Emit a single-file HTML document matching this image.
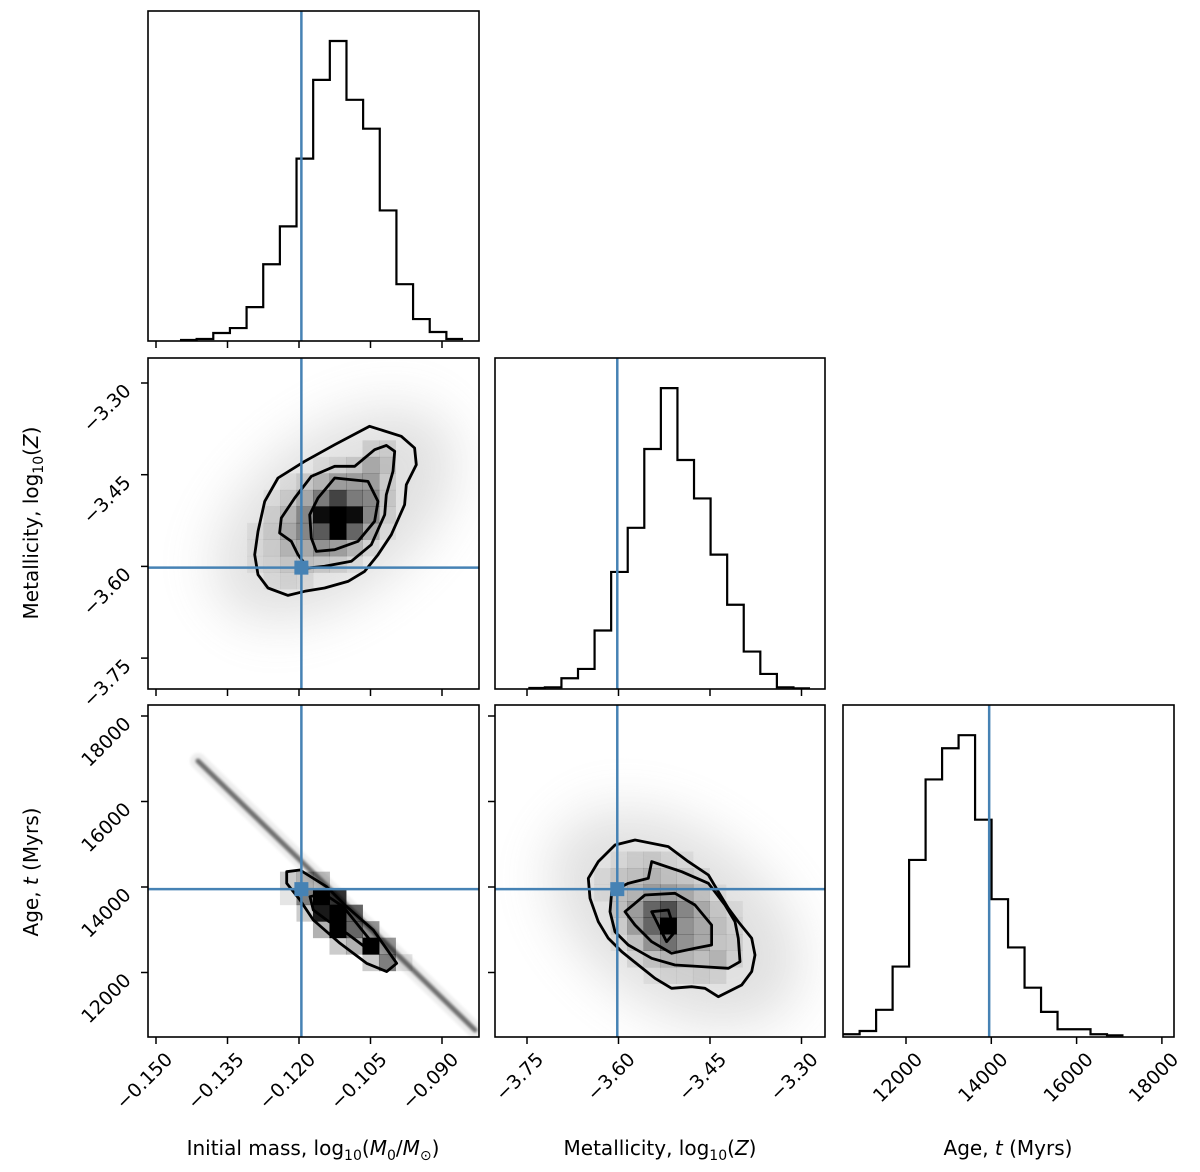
<!DOCTYPE html>
<html><head><meta charset="utf-8"><style>
html,body{margin:0;padding:0;background:#fff;}
svg{display:block;font-family:"DejaVu Sans","Liberation Sans",sans-serif;}
</style></head><body>
<svg id="chart" width="1200" height="1172" viewBox="0 0 1200 1172" xmlns="http://www.w3.org/2000/svg">
<defs>
<filter id="blurBig" x="-50%" y="-50%" width="200%" height="200%"><feGaussianBlur stdDeviation="26"/></filter>
<filter id="blurSm" x="-20%" y="-20%" width="140%" height="140%"><feGaussianBlur stdDeviation="1.4"/></filter>
<clipPath id="c21"><rect x="148" y="358" width="331" height="331"/></clipPath>
<clipPath id="c31"><rect x="148" y="705" width="331" height="332"/></clipPath>
<clipPath id="c32"><rect x="495" y="705" width="330" height="332"/></clipPath>
</defs>
<g id="layer"></g>
</svg>
<script>
// ---------- data ----------
const massTicks = [-0.150, -0.135, -0.120, -0.105, -0.090];
const massTickLabels = ["\u22120.150", "\u22120.135", "\u22120.120", "\u22120.105", "\u22120.090"];
const zTicks = [-3.75, -3.60, -3.45, -3.30];
const zTickLabels = ["\u22123.75", "\u22123.60", "\u22123.45", "\u22123.30"];
const ageTicks = [12000, 14000, 16000, 18000];
const ageTickLabels = ["12000", "14000", "16000", "18000"];
const truthMass = -0.1195;
const truthZ = -3.602;
const truthAge = 13950;

const massHistStart = -0.14497, massHistWidth = 0.003493;
const massHistCounts = [1, 2, 8, 13, 34, 77, 115, 183, 262, 301, 242, 213, 131, 57, 22, 9, 2];
const zHistStart = -3.7479, zHistWidth = 0.02717;
const zHistCounts = [1, 1.7, 10.7, 20, 58.3, 116.7, 160.7, 239.3, 300, 228.3, 190, 134, 84, 37.3, 15, 1.7, 0.7];
const ageHistStart = 10526, ageHistWidth = 386.7;
const ageHistCounts = [2.7, 6, 27, 70, 176, 256, 287, 300, 216, 137, 89, 49, 25, 7.7, 7.7, 2.7, 1.7];

// mass vs Z
const mzContourOuter = [[-0.10518,-3.3709],[-0.09853,-3.3872],[-0.09574,-3.4063],[-0.09539,-3.4336],[-0.09749,-3.4663],[-0.09784,-3.4990],[-0.10063,-3.5481],[-0.10343,-3.5808],[-0.10623,-3.6081],[-0.10972,-3.6245],[-0.11462,-3.6354],[-0.11881,-3.6408],[-0.12231,-3.6474],[-0.12651,-3.6354],[-0.12860,-3.6135],[-0.12930,-3.5808],[-0.12860,-3.5427],[-0.12720,-3.4936],[-0.12441,-3.4554],[-0.11881,-3.4281],[-0.11252,-3.4009]];
const mzContourMid = [[-0.10168,-3.4020],[-0.09993,-3.4118],[-0.10028,-3.4445],[-0.10168,-3.4827],[-0.10203,-3.5154],[-0.10483,-3.5645],[-0.10902,-3.5917],[-0.11462,-3.5999],[-0.11811,-3.6026],[-0.12021,-3.5808],[-0.12161,-3.5590],[-0.12406,-3.5454],[-0.12371,-3.5208],[-0.12091,-3.4881],[-0.11741,-3.4527],[-0.11252,-3.4363],[-0.10832,-3.4363],[-0.10413,-3.4091]];
const mzContourInner = [[-0.11252,-3.4554],[-0.10553,-3.4609],[-0.10343,-3.4936],[-0.10413,-3.5263],[-0.10762,-3.5590],[-0.11252,-3.5727],[-0.11637,-3.5754],[-0.11741,-3.5536],[-0.11776,-3.5154],[-0.11602,-3.4881]];
const mzGridMass0 = -0.13436, mzGridZ0 = -3.3938, mzCellMass = 0.00346, mzCellZ = 0.027;
const mzDensity = [
 [0,0,0,0,0,0,0,0,0.1,0.1],
 [0,0,0,0,0,0.05,0.08,0.12,0.25,0.15],
 [0,0,0,0.05,0.12,0.2,0.3,0.3,0.3,0.1],
 [0,0,0.05,0.12,0.25,0.45,0.7,0.45,0.4,0.12],
 [0,0,0.1,0.2,0.4,0.95,1,0.95,0.4,0.1],
 [0,0.05,0.12,0.25,0.4,0.6,1,0.55,0.25,0.05],
 [0,0.05,0.1,0.2,0.25,0.35,0.3,0.2,0.08,0],
 [0,0.05,0.08,0.12,0.15,0.12,0.1,0.05,0,0],
 [0,0,0.05,0.08,0.06,0,0,0,0,0],
 [0,0,0,0,0,0,0,0,0,0]];
const mzCloud = [-0.1125, -3.515];

// mass vs age
const maRidge = [[-0.14119,16947],[-0.08308,10655]];
const maContourOuter = [[-0.12259,14359],[-0.11979,14398],[-0.11420,14008],[-0.11000,13540],[-0.10441,12994],[-0.09951,12215],[-0.10161,12020],[-0.10581,12215],[-0.11140,12682],[-0.11700,13228],[-0.11979,13696],[-0.12259,14086]];
const maContourInner = [[-0.11770,13774],[-0.11490,13852],[-0.11070,13540],[-0.10791,13150],[-0.10511,12760],[-0.10371,12526],[-0.10581,12565],[-0.11000,12916],[-0.11420,13228],[-0.11700,13462]];
const maGridMass0 = -0.12399, maGridAge0 = 14359, maCellMass = 0.00346, maCellAge = 386;
const maDensity = [
 [0.2,0.3,0.25,0,0,0,0,0],
 [0.1,0.5,1,0.8,0,0,0,0],
 [0,0.2,0.9,1,0.6,0,0,0],
 [0,0,0.3,1,0.6,0.4,0,0],
 [0,0,0,0.2,0.3,1,0.4,0],
 [0,0,0,0,0,0.2,0.5,0.1]];

// Z vs age
const zaContourOuter = [[-3.5730,15099],[-3.5184,14944],[-3.4855,14593],[-3.4527,14281],[-3.4364,13891],[-3.4199,13501],[-3.4036,13189],[-3.3817,12799],[-3.3762,12410],[-3.3817,12020],[-3.3981,11708],[-3.4364,11435],[-3.4582,11630],[-3.4801,11669],[-3.5129,11630],[-3.5402,11864],[-3.5675,12176],[-3.5948,12488],[-3.6167,12799],[-3.6331,13189],[-3.6468,13735],[-3.6495,14203],[-3.6331,14593],[-3.6058,14983]];
const zaContourMid = [[-3.5456,14593],[-3.5292,14515],[-3.4964,14359],[-3.4527,14086],[-3.4254,13579],[-3.4090,13189],[-3.4036,12799],[-3.4008,12253],[-3.4199,12098],[-3.4637,12137],[-3.5074,12176],[-3.5456,12332],[-3.5839,12644],[-3.6058,12955],[-3.6139,13423],[-3.6112,13891],[-3.5839,14086],[-3.5511,14203]];
const zaContourInner = [[-3.5894,13423],[-3.5566,13813],[-3.5074,13852],[-3.4746,13579],[-3.4473,13111],[-3.4473,12643],[-3.4746,12565],[-3.5129,12448],[-3.5456,12721],[-3.5730,13111]];
const zaContourCore = [[-3.5456,13423],[-3.5183,13462],[-3.5074,12955],[-3.5211,12721],[-3.5347,13111]];
const zaGridZ0 = -3.667, zaGridAge0 = 14830, zaCellZ = 0.027, zaCellAge = 386;
const zaDensity = [
 [0,0,0.05,0.1,0.12,0.08,0.05,0,0,0],
 [0,0.05,0.12,0.15,0.2,0.15,0.12,0.08,0,0],
 [0,0.05,0.15,0.2,0.3,0.3,0.25,0.15,0.05,0],
 [0,0,0.15,0.3,0.55,0.65,0.4,0.25,0.12,0.05],
 [0,0,0.1,0.3,0.55,1,0.35,0.25,0.15,0.08],
 [0,0,0.05,0.15,0.35,0.5,0.35,0.25,0.12,0.1],
 [0,0,0,0.08,0.15,0.2,0.2,0.15,0.2,0.08],
 [0,0,0,0,0.05,0.08,0.08,0.1,0.08,0],
 [0,0,0,0,0,0,0,0,0,0]];
const zaCloud = [-3.507, 13267];

// ---------- axes ----------
const xMass = m => 156 + (m + 0.150) / 0.015 * 71.5;
const xZ = z => 527 + (z + 3.75) / 0.15 * 91.5;
const yZ = z => 383 + (-3.30 - z) / 0.15 * 91.7;
const xAge = a => 906 + (a - 12000) / 2000 * 85.3;
const yAge = a => 716 + (18000 - a) / 2000 * 85.5;

const NS = "http://www.w3.org/2000/svg";
const layer = document.getElementById('layer');
function mk(tag, attrs, parent) {
  const e = document.createElementNS(NS, tag);
  for (const k in attrs) e.setAttribute(k, attrs[k]);
  (parent || layer).appendChild(e);
  return e;
}
const BLUE = "#4682b4";
const P = {
  p11: [148, 11, 479, 341], p21: [148, 358, 479, 689], p22: [495, 358, 825, 689],
  p31: [148, 705, 479, 1037], p32: [495, 705, 825, 1037], p33: [843, 705, 1174, 1037]
};

function hist(name, rect, start, width, counts, xf, truth) {
  const g = mk('g', {});
  
  
  const bot = rect[3], h = rect[3] - rect[1];
  const mx = Math.max(...counts) * 1.1;
  let d = "";
  counts.forEach((c, i) => {
    const x0 = xf(start + i * width), x1 = xf(start + (i + 1) * width);
    const y = bot - c / mx * h;
    d += (i === 0 ? "M" + x0 + "," + y : "L" + x0 + "," + y) + "L" + x1 + "," + y;
  });
  const p = mk('path', { d: d, fill: 'none', stroke: '#000', 'stroke-width': 2.2 }, g);
  
  
  const t = mk('line', { x1: xf(truth), x2: xf(truth), y1: rect[1], y2: rect[3], stroke: BLUE, 'stroke-width': 2.5 }, g);
  
  
}

function heat(name, clip, grid, x0, y0, dx, dy, xf, yf) {
  const g = mk('g', { 'clip-path': 'url(#' + clip + ')' });
  
  
  grid.forEach((row, r) => row.forEach((v, c) => {
    if (v <= 0) return;
    const xa = xf(x0 + c * dx), xb = xf(x0 + (c + 1) * dx);
    const ya = yf(y0 - r * dy), yb = yf(y0 - (r + 1) * dy);
    const cell = mk('rect', { x: Math.min(xa, xb), y: Math.min(ya, yb), width: Math.abs(xb - xa) + 0.5, height: Math.abs(yb - ya) + 0.5, fill: '#000', 'fill-opacity': v }, g);
    
    
  }));
}

function contour(name, pts, xf, yf) {
  const d = pts.map((p, i) => (i ? 'L' : 'M') + xf(p[0]).toFixed(1) + ',' + yf(p[1]).toFixed(1)).join('') + 'Z';
  const e = mk('path', { d: d, fill: 'none', stroke: '#000', 'stroke-width': 2.8, 'stroke-linejoin': 'round' });
  
  
}

function cloud(name, clip, c, xf, yf, rx, ry, rot) {
  const cx = xf(c[0]), cy = yf(c[1]);
  const g = mk('g', { 'clip-path': 'url(#' + clip + ')' });
  
  
  mk('ellipse', { cx: cx, cy: cy, rx: rx, ry: ry, fill: '#9a9a9a', opacity: 0.3, filter: 'url(#blurBig)', transform: 'rotate(' + rot + ' ' + cx + ' ' + cy + ')' }, g);
}

function truth2d(name, rect, tx, ty) {
  const g = mk('g', {});
  
  
  mk('line', { x1: tx, x2: tx, y1: rect[1], y2: rect[3], stroke: BLUE, 'stroke-width': 2.5 }, g);
  mk('line', { x1: rect[0], x2: rect[2], y1: ty, y2: ty, stroke: BLUE, 'stroke-width': 2.5 }, g);
  mk('rect', { x: tx - 7, y: ty - 7, width: 14, height: 14, fill: BLUE }, g);
}

function frame(name, rect) {
  const f = mk('rect', { x: rect[0], y: rect[1], width: rect[2] - rect[0], height: rect[3] - rect[1], fill: 'none', stroke: '#000', 'stroke-width': 1.6 });
  
  
}

function xTicks(name, rect, ticks, xf, labels) {
  const g = mk('g', {});
  
  
  ticks.forEach((t, i) => {
    const x = xf(t);
    mk('line', { x1: x, x2: x, y1: rect[3], y2: rect[3] + 7, stroke: '#000', 'stroke-width': 1.5 }, g);
    if (labels) {
      const tx = x + 8, ty = rect[3] + 14;
      const e = mk('text', { x: tx, y: ty, 'text-anchor': 'end', 'font-size': 19, fill: '#000', transform: 'rotate(-45 ' + tx + ' ' + ty + ')', 'dominant-baseline': 'hanging' }, g);
      e.textContent = labels[i];
      
      
    }
  });
}

function yTicks(name, rect, ticks, yf, labels) {
  const g = mk('g', {});
  
  
  ticks.forEach((t, i) => {
    const y = yf(t);
    mk('line', { x1: rect[0] - 7, x2: rect[0], y1: y, y2: y, stroke: '#000', 'stroke-width': 1.5 }, g);
    if (labels) {
      const tx = rect[0] - 16, ty = y + 9;
      const e = mk('text', { x: tx, y: ty, 'text-anchor': 'end', 'font-size': 19, fill: '#000', transform: 'rotate(-45 ' + tx + ' ' + ty + ')' }, g);
      e.textContent = labels[i];
      
      
    }
  });
}

// ---------- draw ----------
hist('mass-histogram', P.p11, massHistStart, massHistWidth, massHistCounts, xMass, truthMass);
hist('metallicity-histogram', P.p22, zHistStart, zHistWidth, zHistCounts, xZ, truthZ);
hist('age-histogram', P.p33, ageHistStart, ageHistWidth, ageHistCounts, xAge, truthAge);

// mass-Z
cloud('mass-metallicity-cloud', 'c21', mzCloud, xMass, yZ, 140, 80, -38);
heat('mass-metallicity-density', 'c21', mzDensity, mzGridMass0, mzGridZ0, mzCellMass, mzCellZ, xMass, yZ);
contour('mass-metallicity-contour-outer', mzContourOuter, xMass, yZ);
contour('mass-metallicity-contour-mid', mzContourMid, xMass, yZ);
contour('mass-metallicity-contour-inner', mzContourInner, xMass, yZ);
truth2d('mass-metallicity-truth', P.p21, xMass(truthMass), yZ(truthZ));

// mass-age
(function () {
  const g = mk('g', { 'clip-path': 'url(#c31)' });
  
  
  const d = maRidge.map((p, i) => (i ? 'L' : 'M') + xMass(p[0]) + ',' + yAge(p[1])).join('');
  mk('path', { d: d, stroke: '#eeeeee', 'stroke-width': 16, fill: 'none', 'stroke-linecap': 'round', filter: 'url(#blurSm)' }, g);
  mk('path', { d: d, stroke: '#444', 'stroke-width': 5, fill: 'none', 'stroke-linecap': 'round', opacity: 0.75, filter: 'url(#blurSm)' }, g);
})();
heat('mass-age-density', 'c31', maDensity, maGridMass0, maGridAge0, maCellMass, maCellAge, xMass, yAge);
contour('mass-age-contour-outer', maContourOuter, xMass, yAge);
contour('mass-age-contour-inner', maContourInner, xMass, yAge);
truth2d('mass-age-truth', P.p31, xMass(truthMass), yAge(truthAge));

// Z-age
cloud('metallicity-age-cloud', 'c32', zaCloud, xZ, yAge, 140, 88, 35);
heat('metallicity-age-density', 'c32', zaDensity, zaGridZ0, zaGridAge0, zaCellZ, zaCellAge, xZ, yAge);
contour('metallicity-age-contour-outer', zaContourOuter, xZ, yAge);
contour('metallicity-age-contour-mid', zaContourMid, xZ, yAge);
contour('metallicity-age-contour-inner', zaContourInner, xZ, yAge);
contour('metallicity-age-contour-core', zaContourCore, xZ, yAge);
truth2d('metallicity-age-truth', P.p32, xZ(truthZ), yAge(truthAge));

// frames
for (const k in P) frame('panel-frame-' + k, P[k]);

// ticks
xTicks('mass-hist-x-ticks', P.p11, massTicks, xMass, null);
xTicks('mass-z-x-ticks', P.p21, massTicks, xMass, null);
xTicks('z-hist-x-ticks', P.p22, zTicks, xZ, null);
xTicks('mass-x-axis', P.p31, massTicks, xMass, massTickLabels);
xTicks('metallicity-x-axis', P.p32, zTicks, xZ, zTickLabels);
xTicks('age-x-axis', P.p33, ageTicks, xAge, ageTickLabels);
yTicks('metallicity-y-axis', P.p21, zTicks, yZ, zTickLabels);
yTicks('age-y-axis', P.p31, ageTicks, yAge, ageTickLabels);
yTicks('z-age-y-ticks', P.p32, ageTicks, yAge, null);

// axis titles
function title(name, x, y, rot, html) {
  const e = mk('text', { x: x, y: y, 'text-anchor': 'middle', 'font-size': 20, fill: '#000', transform: rot ? 'rotate(-90 ' + x + ' ' + y + ')' : '' });
  e.innerHTML = html;
  
  
}
title('x-axis-title-mass', 313, 1155, false, 'Initial mass, log<tspan font-size="14" dy="5">10</tspan><tspan dy="-5">(</tspan><tspan font-style="italic">M</tspan><tspan font-size="14" dy="5">0</tspan><tspan dy="-5">/</tspan><tspan font-style="italic">M</tspan><tspan font-size="14" dy="5">\u2299</tspan><tspan dy="-5">)</tspan>');
title('x-axis-title-metallicity', 660, 1155, false, 'Metallicity, log<tspan font-size="14" dy="5">10</tspan><tspan dy="-5">(</tspan><tspan font-style="italic">Z</tspan>)');
title('x-axis-title-age', 1008, 1155, false, 'Age, <tspan font-style="italic">t</tspan> (Myrs)');
title('y-axis-title-metallicity', 38, 523, true, 'Metallicity, log<tspan font-size="14" dy="5">10</tspan><tspan dy="-5">(</tspan><tspan font-style="italic">Z</tspan>)');
title('y-axis-title-age', 38, 872, true, 'Age, <tspan font-style="italic">t</tspan> (Myrs)');
</script>
</body></html>
